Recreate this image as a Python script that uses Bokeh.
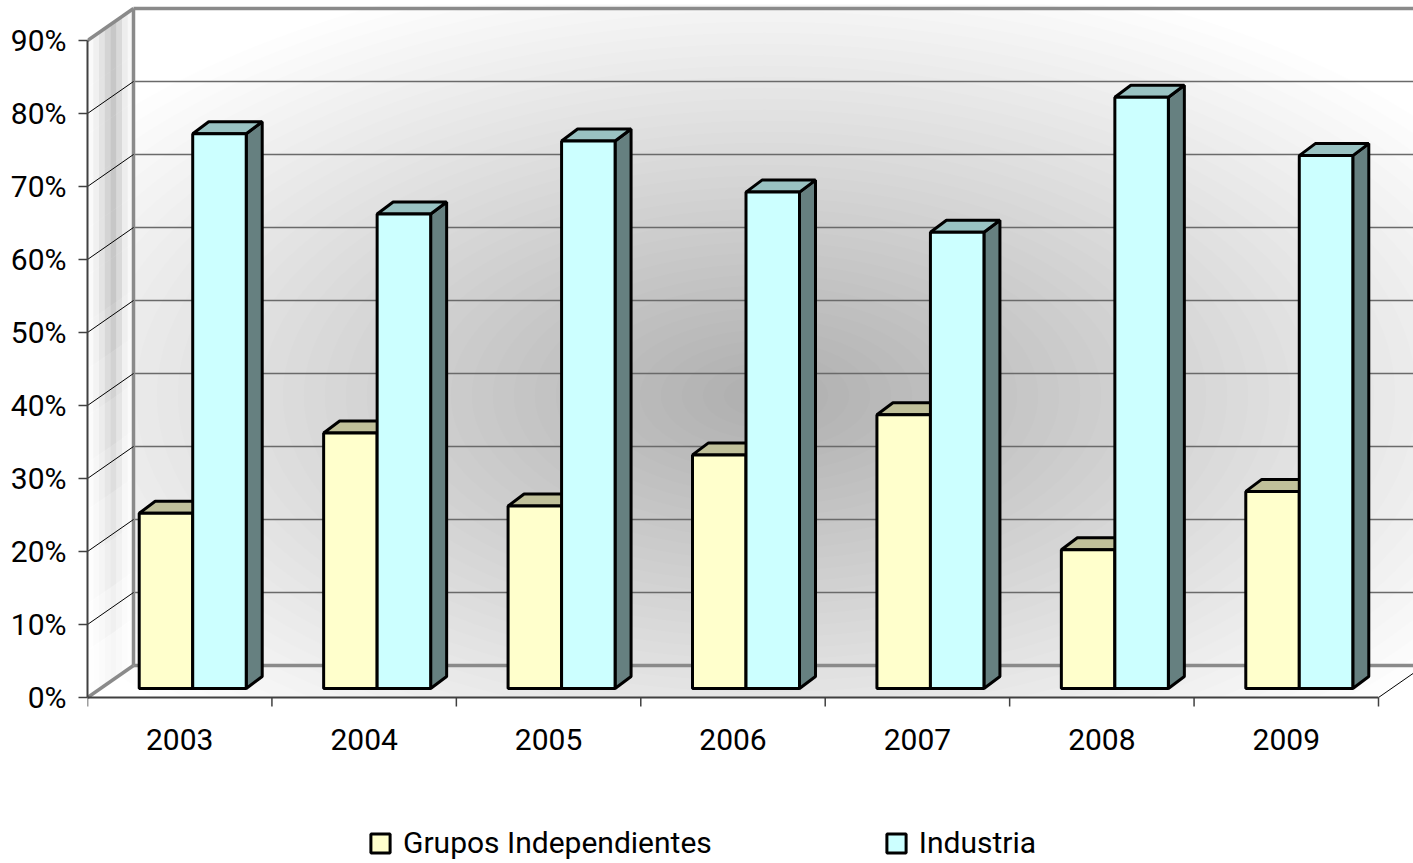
from bokeh.plotting import figure
from bokeh.models import Range1d, FixedTicker, Legend, LegendItem
from bokeh.embed import file_html
from bokeh.resources import INLINE
from bokeh.core.properties import value

# ---------------- data ----------------
years = ["2003", "2004", "2005", "2006", "2007", "2008", "2009"]
grupos = [24.0, 35.0, 25.0, 32.0, 37.5, 19.0, 27.0]
industria = [76.0, 65.0, 75.0, 68.0, 62.5, 81.0, 73.0]
series_names = ["Grupos Independientes", "Industria"]
y_ticks = [0, 10, 20, 30, 40, 50, 60, 70, 80, 90]
y_tick_labels = ["0%", "10%", "20%", "30%", "40%", "50%", "60%", "70%", "80%", "90%"]

# ---------------- layout / style ----------------
W, H = 1413, 863
LEFT, TOP = 87, 4
ZERO_PX = 697                      # pixel row of the front 0% line
frame_w = W - LEFT
cat_px = (1378 - 87) / 7.0
pct_px = 7.3
x_end = frame_w / cat_px
y_start = -(H - ZERO_PX) / pct_px
y_end = (ZERO_PX - TOP) / pct_px

FONT = "Roboto"
n = len(years)

# 3D projection offsets (in data units)
wall_dx, wall_dy = 46 / cat_px, 32 / pct_px
plane_dx, plane_dy = 13 / cat_px, 9 / pct_px
bar_dx, bar_dy = 16 / cat_px, 12 / pct_px
bar_w = 53.5 / cat_px
ymax = y_ticks[-1]
tick_len = 9 / pct_px
label_y = -42 / pct_px

p = figure(width=W, height=H, x_range=Range1d(0, x_end), y_range=Range1d(y_start, y_end),
           output_backend="svg", toolbar_location=None,
           min_border_left=LEFT, min_border_right=0, min_border_top=TOP,
           min_border_bottom=0)
p.grid.visible = False
p.outline_line_color = None
p.background_fill_color = "white"
p.border_fill_color = "white"
p.xaxis.visible = False

# ---- back wall radial shading ----
cx, cy = (765 - LEFT) / cat_px, (ZERO_PX - 395) / pct_px
N = 40
for k in range(N):
    f = 1 - k / N
    p.ellipse(x=cx, y=cy, width=2 * 840 / cat_px * f, height=2 * 440 / pct_px * f,
              fill_color="black", fill_alpha=0.0068, line_color=None)

# ---- floor and area below (white) ----
p.patch([0, n, n + wall_dx, x_end + 1, x_end + 1, 0],
        [0, 0, wall_dy, wall_dy, y_start - 1, y_start - 1],
        fill_color="white", line_color=None)

# ---- side wall ----
p.patch([0, 0, wall_dx, wall_dx], [0, ymax, ymax + wall_dy, wall_dy],
        fill_color="white", line_color=None)
col_alpha = [0.02, 0.06, 0.11, 0.17, 0.22, 0.15, 0.07, 0.03]
rows = 14
for ci, ca in enumerate(col_alpha):
    x0 = wall_dx * ci / len(col_alpha)
    x1 = wall_dx * (ci + 1) / len(col_alpha)
    s0 = wall_dy * ci / len(col_alpha)
    s1 = wall_dy * (ci + 1) / len(col_alpha)
    for r in range(rows):
        v0 = ymax * r / rows
        v1 = ymax * (r + 1) / rows
        fade = min(1.0, (r + 0.5) / (rows * 0.6))
        p.patch([x0, x1, x1, x0], [v0 + s0, v0 + s1, v1 + s1, v1 + s0],
                fill_color="black", fill_alpha=ca * (0.1 + 0.9 * fade), line_color=None)

# ---- gridlines on back wall ----
for v in y_ticks[1:-1]:
    p.line([wall_dx, x_end + 1], [v + wall_dy, v + wall_dy], line_color="#6a6a6a", line_width=1.5)
p.line([wall_dx, x_end + 1], [wall_dy, wall_dy], line_color="#8a8a8a", line_width=3.5)
p.line([wall_dx, x_end + 1], [ymax + wall_dy, ymax + wall_dy], line_color="#8a8a8a", line_width=3.5)
p.line([wall_dx, wall_dx], [wall_dy, ymax + wall_dy], line_color="#8a8a8a", line_width=3.5)
# side wall diagonals
for v in y_ticks[1:-1]:
    p.line([0, wall_dx], [v, v + wall_dy], line_color="black", line_width=1)
p.line([0, wall_dx], [0, wall_dy], line_color="#8a8a8a", line_width=3.5)
p.line([0, wall_dx], [ymax, ymax + wall_dy], line_color="#8a8a8a", line_width=3.5)
# right floor edge
p.line([n, n + wall_dx], [0, wall_dy], line_color="black", line_width=1)

# ---- category axis (front floor edge, ticks, labels) ----
p.line([0, n], [0, 0], line_color="#404040", line_width=2)
bounds = list(range(n + 1))
p.segment(x0=bounds, y0=[0] * len(bounds), x1=bounds, y1=[-tick_len] * len(bounds),
          line_color="#404040", line_width=1.5)
p.text(x=[i + 0.5 for i in range(n)], y=[label_y] * n, text=years,
       text_align="center", text_baseline="middle",
       text_font=value(FONT), text_font_size="30px", text_color="black")

# ---- bars ----
series = [grupos, industria]
front_cols = ["#FFFFCC", "#CCFFFF"]
top_cols = ["#C0C09A", "#99C2C2"]
side_cols = ["#999973", "#668080"]
legend_renderers = []
for s, vals in enumerate(series):
    lefts, rights, tops, bottoms = [], [], [], []
    top_xs, top_ys, side_xs, side_ys = [], [], [], []
    for i, v in enumerate(vals):
        c = i + 0.5 + plane_dx
        l = c - bar_w if s == 0 else c
        r = l + bar_w
        b = plane_dy
        t = plane_dy + v
        lefts.append(l); rights.append(r); tops.append(t); bottoms.append(b)
        top_xs.append([l, r, r + bar_dx, l + bar_dx])
        top_ys.append([t, t, t + bar_dy, t + bar_dy])
        side_xs.append([r, r + bar_dx, r + bar_dx, r])
        side_ys.append([b, b + bar_dy, t + bar_dy, t])
    p.patches(side_xs, side_ys, fill_color=side_cols[s], line_color="black", line_width=3)
    p.patches(top_xs, top_ys, fill_color=top_cols[s], line_color="black", line_width=3)
    fr = p.quad(left=lefts, right=rights, top=tops, bottom=bottoms,
                fill_color=front_cols[s], line_color="black", line_width=3)
    legend_renderers.append(fr)

# ---- value axis ----
ya = p.yaxis[0]
ya.ticker = FixedTicker(ticks=y_ticks, minor_ticks=[])
ya.major_label_overrides = {t: l for t, l in zip(y_ticks, y_tick_labels)}
ya.bounds = (0, ymax)
ya.axis_line_color = "#404040"
ya.axis_line_width = 2
ya.major_tick_line_color = "#404040"
ya.major_tick_line_width = 1.5
ya.major_tick_out = 9
ya.major_tick_in = 0
ya.minor_tick_line_color = None
ya.major_label_standoff = 12
ya.major_label_text_font = FONT
ya.major_label_text_font_size = "30px"
ya.major_label_text_color = "black"

# ---- legend ----
legend = Legend(items=[LegendItem(label=series_names[i], renderers=[legend_renderers[i]]) for i in range(2)],
                orientation="horizontal", location=(281, 3),
                border_line_alpha=0, background_fill_alpha=0,
                glyph_width=24, glyph_height=24, label_standoff=11, spacing=172,
                padding=0, margin=0,
                label_text_font=FONT, label_text_font_size="30px", label_text_color="black")
p.add_layout(legend)

open("out.html", "w").write(file_html(p, INLINE))
